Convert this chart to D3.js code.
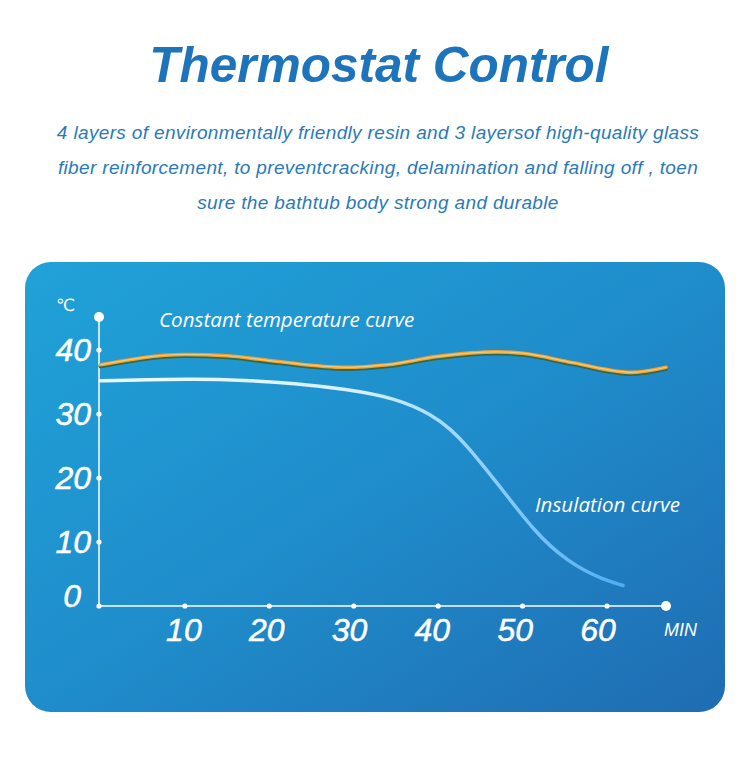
<!DOCTYPE html>
<html>
<head>
<meta charset="utf-8">
<script src="https://cdn.jsdelivr.net/npm/d3@7"></script>
<style>
  body { margin: 0; background: #fff; }
  svg { display: block; }
</style>
</head>
<body>
<div id="chart"></div>
<script>
// data
var xTicks = [10, 20, 30, 40, 50, 60];
var yTicks = [0, 10, 20, 30, 40];

var constMin  = [0, 10, 15, 21, 29, 34, 40, 47, 50, 56, 63, 67];
var constTemp = [37.7, 39.3, 39.1, 38.2, 37.3, 37.7, 39.0, 39.7, 39.5, 38.0, 36.5, 37.3];

var insulMin  = [0, 11, 17, 23, 29, 35, 39.4, 41.5, 43.5, 45.4, 47.4, 49.4, 51.3, 53.3, 55.3, 57.2, 59.3, 61.9];
var insulTemp = [35.2, 35.5, 35.3, 34.8, 33.9, 32.5, 29.8, 27.6, 24.9, 21.8, 18.5, 15.1, 12.0, 9.3, 7.2, 5.6, 4.3, 3.2];

var subtitleLines = [
  "4 layers of environmentally friendly resin and 3 layersof high-quality glass",
  "fiber reinforcement, to preventcracking, delamination and falling off , toen",
  "sure the bathtub body strong and durable"
];

var svgWidth = 750;
var svgHeight = 762;

var svg = d3.select("#chart")
  .append("svg")
  .attr("width", svgWidth)
  .attr("height", svgHeight);

var defs = svg.append("defs");

var bg = defs.append("linearGradient")
  .attr("id", "panelGrad")
  .attr("x1", "0%").attr("y1", "0%")
  .attr("x2", "100%").attr("y2", "100%");
bg.append("stop").attr("offset", "0%").attr("stop-color", "#20a2d8");
bg.append("stop").attr("offset", "50%").attr("stop-color", "#1f8dcb");
bg.append("stop").attr("offset", "100%").attr("stop-color", "#1f6cb2");

var lineGrad = defs.append("linearGradient")
  .attr("id", "insulGrad")
  .attr("gradientUnits", "userSpaceOnUse")
  .attr("x1", 100).attr("y1", 0)
  .attr("x2", 622).attr("y2", 0);
lineGrad.append("stop").attr("offset", "0%").attr("stop-color", "#f2fbff");
lineGrad.append("stop").attr("offset", "50%").attr("stop-color", "#d6efff");
lineGrad.append("stop").attr("offset", "75%").attr("stop-color", "#8ccdfa");
lineGrad.append("stop").attr("offset", "100%").attr("stop-color", "#4fadf2");

// title and text
svg.append("text")
  .attr("x", 379)
  .attr("y", 82)
  .attr("text-anchor", "middle")
  .style("font-family", "'Liberation Sans', Arial, sans-serif")
  .style("font-weight", "bold")
  .style("font-style", "italic")
  .style("font-size", "49.5px")
  .style("fill", "#1d74bb")
  .text("Thermostat Control");

svg.selectAll(".sub")
  .data(subtitleLines)
  .enter()
  .append("text")
    .attr("class", "sub")
    .attr("x", 378)
    .attr("y", function (d, i) { return 139 + i * 35; })
    .attr("text-anchor", "middle")
    .style("font-family", "'Liberation Sans', Arial, sans-serif")
    .style("font-style", "italic")
    .style("font-size", "19px")
    .style("letter-spacing", "0.35px")
    .style("fill", "#2a7ab8")
    .text(function (d) { return d; });

// panel
svg.append("rect")
  .attr("x", 25)
  .attr("y", 262)
  .attr("width", 700)
  .attr("height", 450)
  .attr("rx", 26)
  .attr("ry", 26)
  .style("fill", "url(#panelGrad)");

var xScale = d3.scaleLinear()
  .domain([0, 60])
  .range([100.5, 607]);

var yScale = d3.scaleLinear()
  .domain([0, 40])
  .range([606, 350]);

var axisColor = "#ffffff";

// axes lines
svg.append("line")
  .attr("x1", 99).attr("x2", 99)
  .attr("y1", 317).attr("y2", yScale(0))
  .style("stroke", axisColor)
  .style("stroke-width", 1.5);
svg.append("line")
  .attr("x1", 99).attr("x2", 666)
  .attr("y1", yScale(0)).attr("y2", yScale(0))
  .style("stroke", axisColor)
  .style("stroke-width", 1.5);

svg.append("circle").attr("cx", 99).attr("cy", 317).attr("r", 5).style("fill", axisColor);
svg.append("circle").attr("cx", 666).attr("cy", yScale(0)).attr("r", 5).style("fill", axisColor);

// tick dots
svg.selectAll(".ydot")
  .data(yTicks)
  .enter()
  .append("circle")
    .attr("cx", 99)
    .attr("cy", function (d) { return yScale(d); })
    .attr("r", 2.6)
    .style("fill", axisColor);

svg.selectAll(".xdot")
  .data(xTicks)
  .enter()
  .append("circle")
    .attr("cx", function (d) { return xScale(d); })
    .attr("cy", yScale(0))
    .attr("r", 2.6)
    .style("fill", axisColor);

// tick labels
svg.selectAll(".ylab")
  .data(yTicks)
  .enter()
  .append("text")
    .attr("x", function (d) { return d === 0 ? 81 : 91; })
    .attr("y", function (d) { return d === 0 ? yScale(d) + 1 : yScale(d) + 11; })
    .attr("text-anchor", "end")
    .style("font-family", "'Liberation Sans', Arial, sans-serif")
    .style("font-style", "italic")
    .style("font-size", "32px")
    .style("fill", "#ffffff")
    .style("stroke", "#ffffff")
    .style("stroke-width", 0.5)
    .text(function (d) { return d; });

svg.selectAll(".xlab")
  .data(xTicks)
  .enter()
  .append("text")
    .attr("x", function (d) { return xScale(d) - 1 - (d - 10) * 0.16; })
    .attr("y", 641)
    .attr("text-anchor", "middle")
    .style("font-family", "'Liberation Sans', Arial, sans-serif")
    .style("font-style", "italic")
    .style("font-size", "32px")
    .style("fill", "#ffffff")
    .style("stroke", "#ffffff")
    .style("stroke-width", 0.5)
    .text(function (d) { return d; });

svg.append("text")
  .attr("x", 664)
  .attr("y", 636)
  .style("font-family", "'Liberation Sans', Arial, sans-serif")
  .style("font-style", "italic")
  .style("font-size", "18px")
  .style("fill", "#ffffff")
  .text("MIN");

svg.append("text")
  .attr("x", 56)
  .attr("y", 311)
  .style("font-family", "'DejaVu Sans', sans-serif")
  .style("font-size", "17px")
  .style("fill", "#ffffff")
  .text("℃");

// curves
var constData = constMin.map(function (m, i) { return { m: m, t: constTemp[i] }; });
var insulData = insulMin.map(function (m, i) { return { m: m, t: insulTemp[i] }; });

var line = d3.line()
  .x(function (d) { return xScale(d.m); })
  .y(function (d) { return yScale(d.t); })
  .curve(d3.curveMonotoneX);

var smoothLine = d3.line()
  .x(function (d) { return xScale(d.m); })
  .y(function (d) { return yScale(d.t); })
  .curve(d3.curveBasis);

svg.append("path")
  .datum(insulData)
  .attr("d", smoothLine)
  .style("fill", "none")
  .style("stroke", "url(#insulGrad)")
  .style("stroke-width", 3.5)
  .style("stroke-linecap", "round");

svg.append("path")
  .datum(constData)
  .attr("d", line)
  .attr("transform", "translate(0,1.6)")
  .style("fill", "none")
  .style("stroke", "#2f6a4c")
  .style("stroke-width", 4)
  .style("stroke-linecap", "round");

svg.append("path")
  .datum(constData)
  .attr("d", line)
  .style("fill", "none")
  .style("stroke", "#eea23a")
  .style("stroke-width", 3.6)
  .style("stroke-linecap", "round");

svg.append("path")
  .datum(constData)
  .attr("d", line)
  .style("fill", "none")
  .style("stroke", "#f8c977")
  .style("stroke-width", 1.2)
  .style("stroke-linecap", "round");

// curve labels
svg.append("text")
  .attr("x", 159)
  .attr("y", 327)
  .style("font-family", "'Open Sans', sans-serif")
  .style("font-style", "italic")
  .style("font-size", "20.6px")
  .style("fill", "#ffffff")
  .text("Constant temperature curve");

svg.append("text")
  .attr("x", 535)
  .attr("y", 512)
  .style("font-family", "'Open Sans', sans-serif")
  .style("font-style", "italic")
  .style("font-size", "20.6px")
  .style("fill", "#ffffff")
  .text("Insulation curve");
</script>
</body>
</html>
